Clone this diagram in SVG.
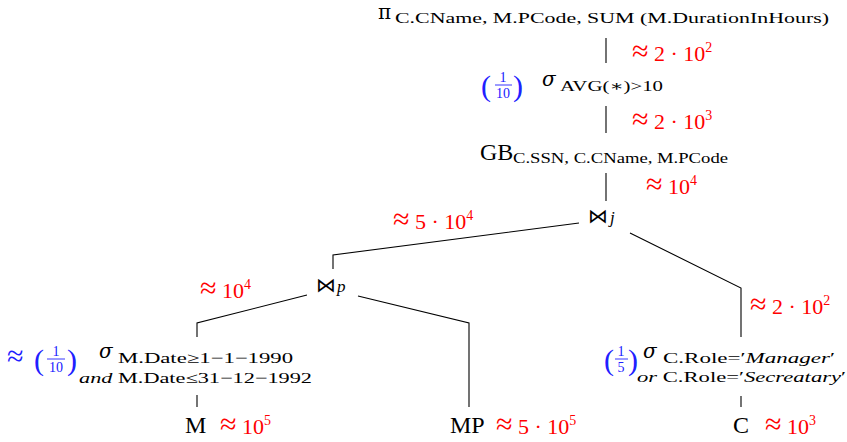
<svg xmlns="http://www.w3.org/2000/svg" width="847" height="442" viewBox="0 0 847 442">
<style>
text{font-family:"Liberation Serif","DejaVu Serif",serif;fill:#000}
.main{font-size:24px}
.pi{font-family:"DejaVu Serif",serif;font-size:20px}
.sym{font-family:"DejaVu Serif",serif;font-size:20px;font-style:italic}
.sub{font-size:15px}
.sub2{font-size:14px}
.it{font-style:italic}
.red{font-size:22px;fill:#ff0000}
.ap{font-size:30px}
.sup{font-size:14px}
.blue{fill:#2020ff}
.fr{font-size:14px;fill:#2020ff}
.par{font-size:30px;fill:#2020ff}
.bt{font-family:"DejaVu Sans",sans-serif;font-size:20px}
.idx{font-size:17px;font-style:italic}
.ln{stroke:#000;stroke-width:1.1;fill:none}
.fl{stroke:#2020ff;stroke-width:0.9}
</style>
<rect width="847" height="442" fill="#fff"/>
<g id="connectors">
<path class="ln" d="M606 38V63"/>
<path class="ln" d="M606 106V133"/>
<path class="ln" d="M606 173V201"/>
<path class="ln" d="M579 223L333 255V269"/>
<path class="ln" d="M630 233L741 288V337"/>
<path class="ln" d="M307 295L197 323V337"/>
<path class="ln" d="M358 296L469 323V407"/>
<path class="ln" d="M197 395V407"/>
<path class="ln" d="M741 396V407"/>
</g>
<g id="projection">
<text class="pi" x="378" y="19">π</text>
<text class="sub" x="395" y="23" textLength="434" lengthAdjust="spacingAndGlyphs">C.CName, M.PCode, SUM (M.DurationInHours)</text>
<text class="red" x="632" y="61"><tspan class="ap">≈</tspan> 2 · 10<tspan class="sup" dy="-9">2</tspan></text>
</g>
<g id="having">
<text class="par" x="481" y="96">(</text>
<text class="fr" x="503" y="82" text-anchor="middle">1</text>
<line class="fl" x1="495" y1="85" x2="512" y2="85"/>
<text class="fr" x="503" y="98" text-anchor="middle">10</text>
<text class="par" x="513" y="96">)</text>
<text class="sym" x="542" y="86">σ</text>
<text class="sub" x="560" y="91" textLength="103" lengthAdjust="spacingAndGlyphs">AVG(∗)&gt;10</text>
<text class="red" x="632" y="129"><tspan class="ap">≈</tspan> 2 · 10<tspan class="sup" dy="-9">3</tspan></text>
</g>
<g id="groupby">
<text class="main" x="480" y="160">GB</text>
<text class="sub2" x="513" y="163" textLength="215" lengthAdjust="spacingAndGlyphs">C.SSN, C.CName, M.PCode</text>
<text class="red" x="646" y="194"><tspan class="ap">≈</tspan> 10<tspan class="sup" dy="-9">4</tspan></text>
</g>
<g id="join-j">
<text class="bt" x="588" y="223">⋈</text>
<text class="idx" x="610" y="223">j</text>
<text class="red" x="393" y="229"><tspan class="ap">≈</tspan> 5 · 10<tspan class="sup" dy="-9">4</tspan></text>
</g>
<g id="join-p">
<text class="bt" x="316" y="292">⋈</text>
<text class="idx" x="337" y="292">p</text>
<text class="red" x="200" y="298"><tspan class="ap">≈</tspan> 10<tspan class="sup" dy="-9">4</tspan></text>
</g>
<g id="select-date">
<text class="ap blue" x="7" y="366">≈</text>
<text class="par" x="34" y="370">(</text>
<text class="fr" x="56" y="356" text-anchor="middle">1</text>
<line class="fl" x1="47" y1="359" x2="65" y2="359"/>
<text class="fr" x="56" y="372" text-anchor="middle">10</text>
<text class="par" x="67" y="370">)</text>
<text class="sym" x="99" y="358">σ</text>
<text class="sub" x="118" y="363" textLength="175" lengthAdjust="spacingAndGlyphs">M.Date≥1−1−1990</text>
<text class="sub" x="79" y="383" textLength="233" lengthAdjust="spacingAndGlyphs"><tspan class="it">and</tspan> M.Date≤31−12−1992</text>
</g>
<g id="select-role">
<text class="par" x="604" y="370">(</text>
<text class="fr" x="621" y="356" text-anchor="middle">1</text>
<line class="fl" x1="615" y1="359" x2="628" y2="359"/>
<text class="fr" x="621" y="372" text-anchor="middle">5</text>
<text class="par" x="628" y="370">)</text>
<text class="sym" x="643" y="358">σ</text>
<text class="sub" x="663" y="363" textLength="172" lengthAdjust="spacingAndGlyphs">C.Role=′<tspan class="it">Manager</tspan>′</text>
<text class="sub" x="637" y="382" textLength="209" lengthAdjust="spacingAndGlyphs"><tspan class="it">or</tspan> C.Role=′<tspan class="it">Secreatary</tspan>′</text>
<text class="red" x="750" y="314"><tspan class="ap">≈</tspan> 2 · 10<tspan class="sup" dy="-9">2</tspan></text>
</g>
<g id="rel-M">
<text class="main" x="185" y="433">M</text>
<text class="red" x="220" y="434"><tspan class="ap">≈</tspan> 10<tspan class="sup" dy="-9">5</tspan></text>
</g>
<g id="rel-MP">
<text class="main" x="450" y="433">MP</text>
<text class="red" x="496" y="434"><tspan class="ap">≈</tspan> 5 · 10<tspan class="sup" dy="-9">5</tspan></text>
</g>
<g id="rel-C">
<text class="main" x="733" y="433">C</text>
<text class="red" x="765" y="434"><tspan class="ap">≈</tspan> 10<tspan class="sup" dy="-9">3</tspan></text>
</g>
</svg>
